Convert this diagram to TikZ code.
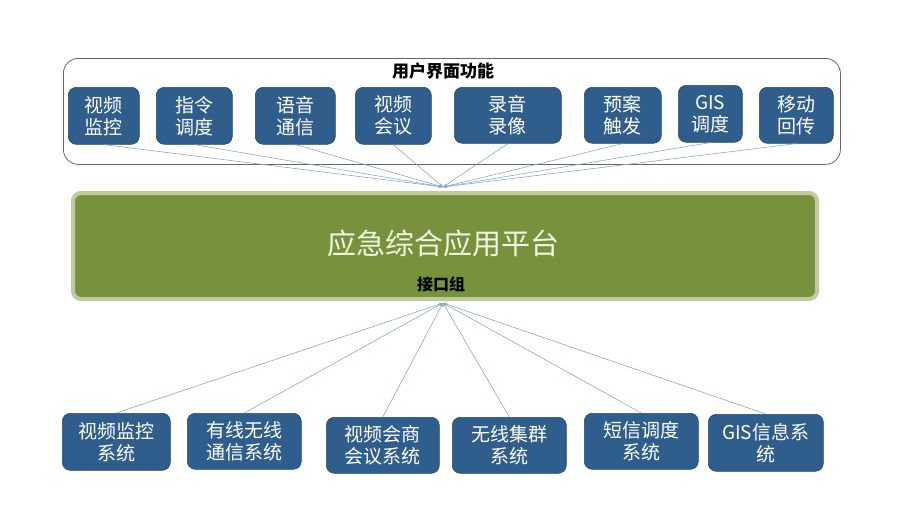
\documentclass[tikz,border=0pt]{standalone}
\usepackage{fontspec}
\setmainfont{Liberation Sans}
\newfontfamily\cjk{Noto Sans CJK SC}
\usetikzlibrary{arrows.meta}
\definecolor{boxblue}{HTML}{2F5D8C}
\definecolor{platgreen}{HTML}{76923C}
\definecolor{platborder}{HTML}{BFCB9E}
\definecolor{linkcol}{HTML}{8FA8C6}
\definecolor{plattext}{HTML}{F2F5E0}
\begin{document}
\begin{tikzpicture}[x=1pt,y=-1pt,
  fbox/.style={draw=boxblue!80!black,line width=0.6pt,fill=boxblue,rounded corners=8pt,text=white,
    font=\cjk\fontsize{19}{22}\selectfont,align=center,inner sep=0pt,anchor=north west},
  link/.style={draw=linkcol,line width=0.6pt,-{Stealth[length=4pt,width=3pt]}}]
\useasboundingbox (0,0) rectangle (912,528);
% outer user-interface frame
\node[draw=black!60,line width=0.8pt,rounded corners=15pt,minimum width=777pt,minimum height=106pt,
  anchor=north west,inner sep=0pt] (ui) at (63,58) {};
\node[font=\cjk\bfseries\fontsize{17}{20}\selectfont] (uit) at (443,71) {用户界面功能};
% top boxes
\node[fbox,minimum width=71pt,minimum height=57pt] (t1) at (68,87) {视频\\监控};
\node[fbox,minimum width=76pt,minimum height=57pt] (t2) at (156,87) {指令\\调度};
\node[fbox,minimum width=80pt,minimum height=57pt] (t3) at (255,87) {语音\\通信};
\node[fbox,minimum width=76pt,minimum height=57pt] (t4) at (355,87) {视频\\会议};
\node[fbox,minimum width=107pt,minimum height=56pt] (t5) at (454,87) {录音\\录像};
\node[fbox,minimum width=77pt,minimum height=56pt] (t6) at (584,87) {预案\\触发};
\node[fbox,minimum width=64pt,minimum height=57pt] (t7) at (678,85) {GIS\\调度};
\node[fbox,minimum width=74pt,minimum height=56pt] (t8) at (759,87) {移动\\回传};
% platform
\node[draw=platborder,line width=4pt,fill=platgreen,rounded corners=8pt,minimum width=744pt,
  minimum height=106pt,anchor=north west,inner sep=0pt] (plat) at (71,191) {};
\node[text=plattext,font=\cjk\fontsize{29}{34}\selectfont] (platt) at (443,243) {应急综合应用平台};
\node[font=\cjk\bfseries\fontsize{16}{19}\selectfont] (ifg) at (441,284) {接口组};
\coordinate (ctop) at (443,187);
\coordinate (cbot) at (443,303);
% bottom boxes
\node[fbox,minimum width=108pt,minimum height=57pt] (b1) at (62,413) {视频监控\\系统};
\node[fbox,minimum width=114pt,minimum height=56pt] (b2) at (187,413) {有线无线\\通信系统};
\node[fbox,minimum width=113pt,minimum height=56pt] (b3) at (326,417) {视频会商\\会议系统};
\node[fbox,minimum width=114pt,minimum height=56pt] (b4) at (452,417) {无线集群\\系统};
\node[fbox,minimum width=114pt,minimum height=56pt] (b5) at (584,413) {短信调度\\系统};
\node[fbox,minimum width=115pt,minimum height=57pt] (b6) at (708,414) {GIS信息系\\统};
% links
\foreach \n in {t1,t2,t3,t4,t5,t6,t7,t8} \draw[link] (\n.south) -- (ctop);
\foreach \n in {b1,b2,b3,b4,b5,b6} \draw[link] (\n.north) -- (cbot);
\end{tikzpicture}
\end{document}
